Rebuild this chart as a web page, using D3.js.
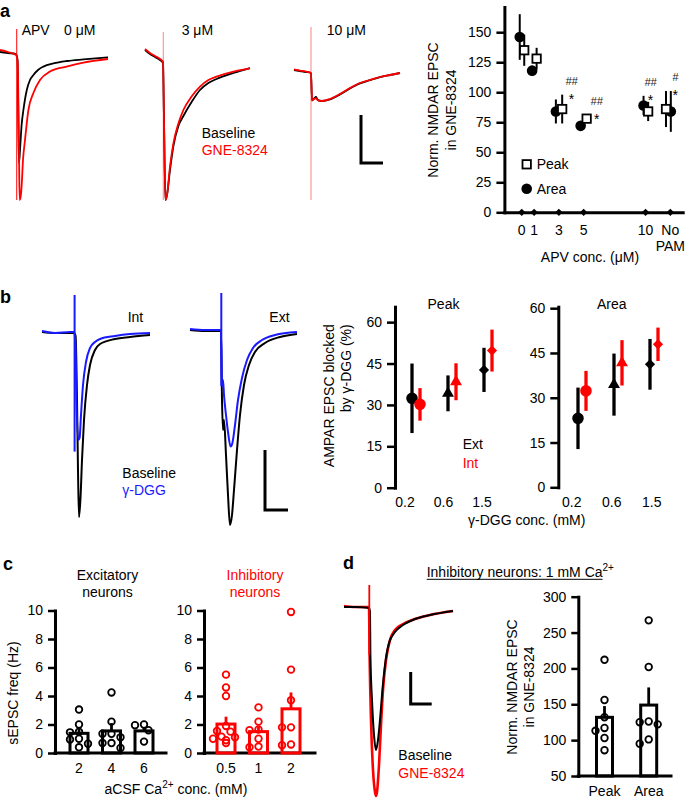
<!DOCTYPE html>
<html><head><meta charset="utf-8">
<script src="https://cdn.jsdelivr.net/npm/d3@7"></script>
<style>
body{margin:0;background:#fff}
svg{display:block}
</style></head><body>
<script>
// ================= DATA =================
// Panel a – example NMDAR EPSC traces, [time (ms), current (pA)]
const a0Baseline = [[0,5],[40,0],[80,-5],[88,-35],[92,-385],[95,-550],[100,-485],[108,-360],[117,-285],[134,-185],[150,-135],[167,-110],[190,-85],[217,-68],[267,-52],[334,-40],[417,-32],[540,-22]];
const a0Gne      = [[0,15],[40,5],[80,-10],[88,-45],[95,-485],[98,-735],[102,-725],[108,-668],[115,-535],[125,-435],[142,-285],[167,-200],[200,-135],[250,-93],[333,-68],[417,-48],[540,-30]];
const a3Baseline = [[0,15],[25,-5],[50,-20],[75,-35],[90,-50],[95,-335],[102,-735],[110,-710],[125,-585],[142,-465],[167,-365],[192,-315],[233,-245],[275,-185],[317,-150],[358,-130],[442,-100],[525,-75]];
const a3Gne      = [[0,20],[25,0],[50,-15],[75,-30],[90,-45],[95,-335],[102,-735],[110,-710],[125,-568],[142,-452],[167,-352],[192,-285],[233,-218],[275,-168],[317,-135],[358,-118],[442,-93],[525,-77]];
const a10Baseline= [[0,-85],[30,-90],[60,-95],[85,-100],[90,-238],[100,-228],[110,-220],[120,-236],[140,-240],[180,-232],[230,-207],[280,-177],[330,-152],[380,-136],[430,-121],[480,-110],[530,-100]];
const a10Gne     = [[0,-82],[30,-88],[60,-93],[85,-100],[90,-235],[100,-230],[110,-226],[120,-237],[140,-240],[180,-230],[230,-205],[280,-175],[330,-150],[380,-135],[430,-120],[480,-110],[530,-100]];
const aArtifacts = [[83.5,120,-735],[91.5,105,-735],[85,130,-735]]; // [time, top, bottom]

// Panel a – summary
const apvLabels = ["0","1","3","5","10","No PAM"];
const apvConc   = [0,1,3,5,10,12];
const peakMean  = [135,128,86,78,84,86];
const peakSem   = [13,9,12,3,8,15];
const areaMean  = [146,118,84,72,89,84];
const areaSem   = [19,4,10,4,8,17];
const sigHash   = ["","","##","##","##","#"];
const sigStar   = ["","","*","*","*","*"];
const aYTicks   = [0,25,50,75,100,125,150];

// Panel b – AMPAR traces
const bIntBaseline = [[0,0],[65,-5],[160,-5],[168,-20],[175,-340],[180,-690],[185,-925],[192,-840],[200,-640],[210,-440],[225,-265],[240,-165],[265,-90],[290,-60],[365,-35],[440,-25],[540,-15]];
const bIntDgg      = [[0,5],[65,-5],[140,0],[160,0],[168,-65],[172,-340],[182,-540],[188,-530],[195,-415],[205,-265],[220,-150],[240,-80],[265,-50],[290,-35],[365,-20],[440,-10],[540,-5]];
const bExtBaseline = [[0,0],[75,-5],[155,-5],[160,-350],[165,-500],[170,-450],[180,-625],[190,-825],[200,-975],[210,-925],[220,-800],[235,-600],[250,-425],[270,-275],[295,-175],[325,-110],[375,-65],[450,-35],[535,-20]];
const bExtDgg      = [[0,5],[75,0],[155,0],[160,-280],[165,-250],[170,-325],[180,-425],[190,-510],[203,-583],[212,-565],[225,-475],[240,-350],[260,-240],[285,-150],[315,-90],[360,-50],[425,-25],[535,-10]];
const bArtifacts   = [[163,185,-598],[156.5,185,-280]];

// Panel b – summary
const dggConc    = ["0.2","0.6","1.5"];
const dggShapes  = ["circle","triangle","diamond"];
const bPeakExt   = [32.4,34.2,42.7], bPeakExtSem = [12.6,6.5,8.0];
const bPeakInt   = [30.2,38.4,49.7], bPeakIntSem = [5.9,6.7,7.6];
const bAreaExt   = [23.1,34.4,41.2], bAreaExtSem = [10.3,10.4,8.5];
const bAreaInt   = [32.3,41.7,47.9], bAreaIntSem = [6.7,7.6,5.6];
const bYTicks    = [0,15,30,45,60];

// Panel c – sEPSC frequency
const excCa   = ["2","4","6"];
const excMean = [1.38,1.55,1.55];
const excSem  = [0.3,0.55,0.2];
const excPts  = [[3.05,2.0,1.5,1.45,1.0,0.95,0.65,0.4],[4.25,2.2,1.35,1.35,1.1,0.7,0.7,0.35],[2.0,1.95,1.6,0.8]];
const inhCa   = ["0.5","1","2"];
const inhMean = [2.03,1.5,3.1];
const inhSem  = [0.52,0.35,1.15];
const inhPts  = [[5.5,4.6,4.0,1.9,1.55,1.5,1.15,1.1,1.0,0.9,0.7],[3.2,2.2,1.65,1.6,1.0,0.45,0.4],[9.9,5.85,3.7,1.8,1.8,0.6,0.55]];
const cYTicks = [0,2,4,6,8,10];

// Panel d
const dTrBaseline = [[0,0],[55,0],[125,-5],[130,-25],[132,-240],[140,-465],[150,-640],[160,-715],[170,-665],[180,-565],[190,-440],[205,-290],[225,-180],[255,-125],[295,-90],[355,-60],[430,-40],[545,-20]];
const dTrGne      = [[0,5],[55,0],[125,0],[128,-240],[135,-565],[145,-815],[155,-925],[160,-945],[165,-925],[175,-790],[185,-590],[195,-415],[210,-265],[230,-165],[255,-115],[295,-85],[355,-60],[430,-40],[545,-20]];
const dArtifact   = [[126.5,110,-240]];
const dCats  = ["Peak","Area"];
const dMean  = [131.8,148.9];
const dSem   = [15.7,24.6];
const dPts   = [[212,156,132,117,113,103,86],[267,202,126,125,122,101,95]];
const dYTicks = [50,100,150,200,250,300];

// ================= DRAWING =================
const FF = '"Liberation Sans", Arial, Helvetica, sans-serif';
const RED = "#ff0000", BLUE = "#1a1aff", BLK = "#000";
const svg = d3.select("body").append("svg").attr("width",685).attr("height",799).style("font-family",FF);
svg.append("rect").attr("width",685).attr("height",799).attr("fill","#fff");

function text(x,y,s,o={}){
  const t = svg.append("text").attr("x",x).attr("y",y).text(s)
    .attr("font-size",o.size||14).attr("fill",o.fill||BLK).attr("text-anchor",o.anchor||"start");
  if(o.weight) t.attr("font-weight",o.weight);
  return t;
}
function vtext(cx,cy,s,o={}){
  return svg.append("text").attr("transform",`translate(${cx},${cy}) rotate(-90)`)
    .attr("text-anchor",o.anchor||"middle").attr("dy","0.36em").attr("font-size",14).attr("fill",BLK).text(s);
}
function styleAxis(g){
  g.attr("font-family",FF);
  g.select(".domain").attr("stroke",BLK).attr("stroke-width",3).attr("stroke-linecap","square");
  g.selectAll(".tick line").attr("stroke",BLK).attr("stroke-width",2.5);
  g.selectAll(".tick text").attr("font-size",14).attr("fill",BLK);
}

// ---- traces ----
const tS = d3.scaleLinear().domain([0,500]).range([0,100]);   // ms -> px
const iS = d3.scaleLinear().domain([0,-500]).range([0,100]);  // pA -> px
const lineGen = d3.line().x(d=>tS(d[0])).y(d=>iS(d[1])).curve(d3.curveMonotoneX);
function drawTrace(g,data,color,w){
  g.append("path").datum(data).attr("d",lineGen).attr("fill","none")
   .attr("stroke",color).attr("stroke-width",w).attr("stroke-linejoin","round");
}
function drawArtifact(g,a,color,op,w){
  g.append("line").attr("x1",tS(a[0])).attr("x2",tS(a[0])).attr("y1",iS(a[1])).attr("y2",iS(a[2]))
   .attr("stroke",color).attr("stroke-opacity",op).attr("stroke-width",w);
}
function scaleBar(x0,y0,tLen,iLen){
  const g = svg.append("g").attr("transform",`translate(${x0},${y0})`);
  g.append("path").attr("d",`M${tS(0)},${iS(iLen)}V${iS(0)}H${tS(tLen)}`)
   .attr("fill","none").attr("stroke",BLK).attr("stroke-width",3);
}

// Panel a traces
const aOrigins = [[0,53],[145,53],[294,53]];
const aPairs = [[a0Baseline,a0Gne],[a3Baseline,a3Gne],[a10Baseline,a10Gne]];
aPairs.forEach((p,i)=>{
  const g = svg.append("g").attr("transform",`translate(${aOrigins[i][0]},${aOrigins[i][1]})`);
  drawTrace(g,p[0],BLK,1.8);
  drawArtifact(g,aArtifacts[i],RED,i===0?0.9:0.45,1.1);
  drawTrace(g,p[1],RED,1.8);
});
scaleBar(361,163,110,240);
text(0,16.5,"a",{size:18,weight:"bold"});
text(21.7,35,"APV");
text(64,35,"0 μM");
text(181.7,35,"3 μM");
text(326.7,35,"10 μM");
text(201.7,138,"Baseline");
text(201.7,155,"GNE-8324",{fill:RED});

// Panel a summary
const xA = d3.scaleLinear().domain([-1.4,13]).range([504.4,682.7]);
const yA = d3.scaleLinear().domain([0,171]).range([212.3,7]);
svg.append("g").attr("transform",`translate(${xA(-1.4)},0)`)
  .call(d3.axisLeft(yA).tickValues(aYTicks).tickSize(8).tickPadding(5).tickSizeOuter(0)).call(styleAxis);
svg.append("g").attr("transform",`translate(0,${yA(0)})`)
  .call(d3.axisBottom(xA).tickValues([]).tickSizeOuter(0)).call(styleAxis);
svg.selectAll(".apvdia").data(apvConc).join("path")
  .attr("d",d3.symbol(d3.symbolSquare,26))
  .attr("transform",d=>`translate(${xA(d)},${yA(0)}) rotate(45)`).attr("fill",BLK);
const areaDx = [-2,-2,-3,-3,-2,0.5];
const peakDx = [2.5,2.5,3.3,3,2.6,-4.3];
apvConc.forEach((c,i)=>{
  svg.append("line").attr("x1",xA(c)+areaDx[i]).attr("x2",xA(c)+areaDx[i])
    .attr("y1",yA(areaMean[i]-areaSem[i])).attr("y2",yA(areaMean[i]+areaSem[i])).attr("stroke",BLK).attr("stroke-width",2);
  svg.append("line").attr("x1",xA(c)+peakDx[i]).attr("x2",xA(c)+peakDx[i])
    .attr("y1",yA(peakMean[i]-peakSem[i])).attr("y2",yA(peakMean[i]+peakSem[i])).attr("stroke",BLK).attr("stroke-width",2);
});
apvConc.forEach((c,i)=>{
  svg.append("circle").attr("cx",xA(c)+areaDx[i]).attr("cy",yA(areaMean[i])).attr("r",5.3).attr("fill",BLK);
});
apvConc.forEach((c,i)=>{
  svg.append("rect").attr("x",xA(c)+peakDx[i]-4.2).attr("y",yA(peakMean[i])-4.2).attr("width",8.4).attr("height",8.4)
    .attr("fill","#fff").attr("stroke",BLK).attr("stroke-width",1.8);
});
const annDx = [0,0,12.7,13,5,5];
apvConc.forEach((c,i)=>{
  if(!sigStar[i]) return;
  const top = Math.max(peakMean[i]+peakSem[i],areaMean[i]+areaSem[i]);
  const yy = yA(top);
  text(xA(c)+annDx[i],yy+9,sigStar[i],{anchor:"middle",size:14});
  text(xA(c)+annDx[i],yy-10,sigHash[i],{anchor:"middle",size:11}).attr("font-style","italic").attr("fill","#222");
});
apvConc.forEach((c,i)=>{
  const parts = apvLabels[i].split(" ");
  parts.forEach((p,j)=> text(xA(c),235.3+j*15.4,p,{anchor:"middle"}));
});
text(590,262,"APV conc. (μM)",{anchor:"middle"});
vtext(433,110,"Norm. NMDAR EPSC");
vtext(451,110,"in GNE-8324");
// legend
svg.append("rect").attr("x",526.7-4.2).attr("y",164.3-4.2).attr("width",8.4).attr("height",8.4)
  .attr("fill","#fff").attr("stroke",BLK).attr("stroke-width",1.8);
text(536.7,169,"Peak");
svg.append("circle").attr("cx",526.7).attr("cy",188.7).attr("r",5.3).attr("fill",BLK);
text(536.7,193.5,"Area");

// Panel b traces
const bOrigins = [[42,332],[190,330]];
[[bIntBaseline,bIntDgg],[bExtBaseline,bExtDgg]].forEach((p,i)=>{
  const g = svg.append("g").attr("transform",`translate(${bOrigins[i][0]},${bOrigins[i][1]})`);
  drawTrace(g,p[0],BLK,2);
  drawArtifact(g,bArtifacts[i],BLUE,1,2);
  drawTrace(g,p[1],BLUE,2);
});
scaleBar(265,510,115,300);
text(0,303,"b",{size:18,weight:"bold"});
text(127.7,321.7,"Int");
text(269.3,321.7,"Ext");
text(122.3,478,"Baseline");
text(122.3,495,"γ-DGG",{fill:BLUE});

// Panel b summary
function symPath(shape){
  if(shape==="circle") return d3.symbol(d3.symbolCircle,105)();
  if(shape==="triangle") return d3.symbol(d3.symbolTriangle,62)();
  return d3.symbol(d3.symbolSquare,52)();
}
function dggChart(axisX,yS,tickRange,markRange,title,ext,extSem,int,intSem){
  svg.append("g").attr("transform",`translate(${axisX},0)`)
    .call(d3.axisLeft(yS).tickValues(bYTicks).tickSize(8).tickPadding(5).tickSizeOuter(0)).call(styleAxis);
  const xt = d3.scalePoint().domain(dggConc).range(tickRange);
  const xm = d3.scalePoint().domain(dggConc).range(markRange);
  dggConc.forEach(c=>text(xt(c),506.7,c,{anchor:"middle"}));
  text((tickRange[0]+tickRange[1])/2,309,title,{anchor:"middle"});
  const series = [[ext,extSem,BLK,-4],[int,intSem,RED,4]];
  series.forEach(([m,s,col,dx])=>{
    dggConc.forEach((c,i)=>{
      const x = xm(c)+dx;
      svg.append("line").attr("x1",x).attr("x2",x).attr("y1",yS(m[i]-s[i])).attr("y2",yS(m[i]+s[i]))
        .attr("stroke",col).attr("stroke-width",3.3);
      svg.append("path").attr("d",symPath(dggShapes[i]))
        .attr("transform",`translate(${x},${yS(m[i])})${dggShapes[i]==="diamond"?" rotate(45)":""}`)
        .attr("fill",col);
    });
  });
}
const yBP = d3.scaleLinear().domain([0,65.6]).range([487.7,306.7]);
const yBA = d3.scaleLinear().domain([0,60.5]).range([487.3,306.7]);
dggChart(395,yBP,[405,482],[416,488],"Peak",bPeakExt,bPeakExtSem,bPeakInt,bPeakIntSem);
dggChart(558.3,yBA,[571.7,651.7],[582,654],"Area",bAreaExt,bAreaExtSem,bAreaInt,bAreaIntSem);
text(462.7,449,"Ext");
text(462.7,468,"Int",{fill:RED});
vtext(328.5,324.3,"AMPAR EPSC blocked",{anchor:"end"});
vtext(346,324.3,"by γ-DGG (%)",{anchor:"end"});
text(526.7,525,"γ-DGG conc. (mM)",{anchor:"middle"});

// Swarm helper
function swarm(vals,yS,cx,r){
  const placed=[];
  return vals.map(v=>{
    const y=yS(v);
    const cands=[0,-4.5,4.5,-9,9,-13,13];
    let dx=0;
    for(const c of cands){
      if(placed.every(p=>Math.hypot(p[0]-c,p[1]-y)>=2*r+0.4)){dx=c;break;}
    }
    placed.push([dx,y]);
    return [cx+dx,y];
  });
}
function barGroup(axisX,axisEnd,yS,ticks,cats,xRange,mean,sem,pts,col,barW,labelY){
  svg.append("g").attr("transform",`translate(${axisX},0)`)
    .call(d3.axisLeft(yS).tickValues(ticks).tickSize(7).tickPadding(5).tickSizeOuter(0)).call(styleAxis);
  const y0 = yS.range()[0];
  svg.append("line").attr("x1",axisX).attr("x2",axisEnd).attr("y1",y0).attr("y2",y0)
    .attr("stroke",BLK).attr("stroke-width",3).attr("stroke-linecap","square");
  const x = d3.scalePoint().domain(cats).range(xRange);
  cats.forEach((c,i)=>{
    const cx=x(c);
    svg.append("line").attr("x1",cx).attr("x2",cx).attr("y1",yS(mean[i])).attr("y2",yS(mean[i]+sem[i]))
      .attr("stroke",col).attr("stroke-width",2.8);
    svg.append("rect").attr("x",cx-barW/2).attr("y",yS(mean[i])).attr("width",barW).attr("height",y0-yS(mean[i]))
      .attr("fill","none").attr("stroke",col).attr("stroke-width",3);
    swarm(pts[i],yS,cx,3.3).forEach(p=>{
      svg.append("circle").attr("cx",p[0]).attr("cy",p[1]).attr("r",3.3)
        .attr("fill","#fff").attr("fill-opacity",0.0).attr("stroke",col).attr("stroke-width",1.8);
    });
    text(cx,labelY,c,{anchor:"middle"});
  });
}

// Panel c
const yC = d3.scaleLinear().domain([0,10]).range([753,610.5]);
barGroup(55,166,yC,cYTicks,excCa,[79,144],excMean,excSem,excPts,BLK,18,772.7);
barGroup(204,315,yC,cYTicks,inhCa,[226,291],inhMean,inhSem,inhPts,RED,18,772.7);
text(3,570,"c",{size:18,weight:"bold"});
text(107.5,580,"Excitatory",{anchor:"middle"});
text(107.5,597,"neurons",{anchor:"middle"});
text(255,580,"Inhibitory",{anchor:"middle",fill:RED});
text(255,597,"neurons",{anchor:"middle",fill:RED});
vtext(13.3,693,"sEPSC freq (Hz)");
const cx = svg.append("text").attr("x",176).attr("y",794).attr("text-anchor","middle").attr("font-size",14);
cx.append("tspan").text("aCSF Ca");
cx.append("tspan").text("2+").attr("font-size",10).attr("dy",-6);
cx.append("tspan").text(" conc. (mM)").attr("dy",6);

// Panel d trace
{
  const g = svg.append("g").attr("transform","translate(344,607)");
  drawTrace(g,dTrGne,RED,2.6);
  drawTrace(g,dTrBaseline,BLK,2);
  drawArtifact(g,dArtifact[0],RED,1,1.8);
}
scaleBar(410.7,704,105,160);
text(343,569,"d",{size:18,weight:"bold"});
text(398.3,760,"Baseline");
text(398.3,777.7,"GNE-8324",{fill:RED});
{
  const t = svg.append("text").attr("x",426.7).attr("y",576.7).attr("font-size",14);
  const main = t.append("tspan").text("Inhibitory neurons: 1 mM Ca");
  t.append("tspan").text("2+").attr("font-size",10).attr("dy",-6);
  const w = main.node().getComputedTextLength();
  svg.append("line").attr("x1",426.7).attr("x2",426.7+w).attr("y1",579.3).attr("y2",579.3)
    .attr("stroke",BLK).attr("stroke-width",1);
}
const yD = d3.scaleLinear().domain([50,300]).range([776,596.7]);
barGroup(578.3,671,yD,dYTicks,dCats,[604.5,648.7],dMean,dSem,dPts,BLK,16,796);
vtext(511.7,687,"Norm. NMDAR EPSC");
vtext(528.7,687,"in GNE-8324");
</script>
</body></html>
